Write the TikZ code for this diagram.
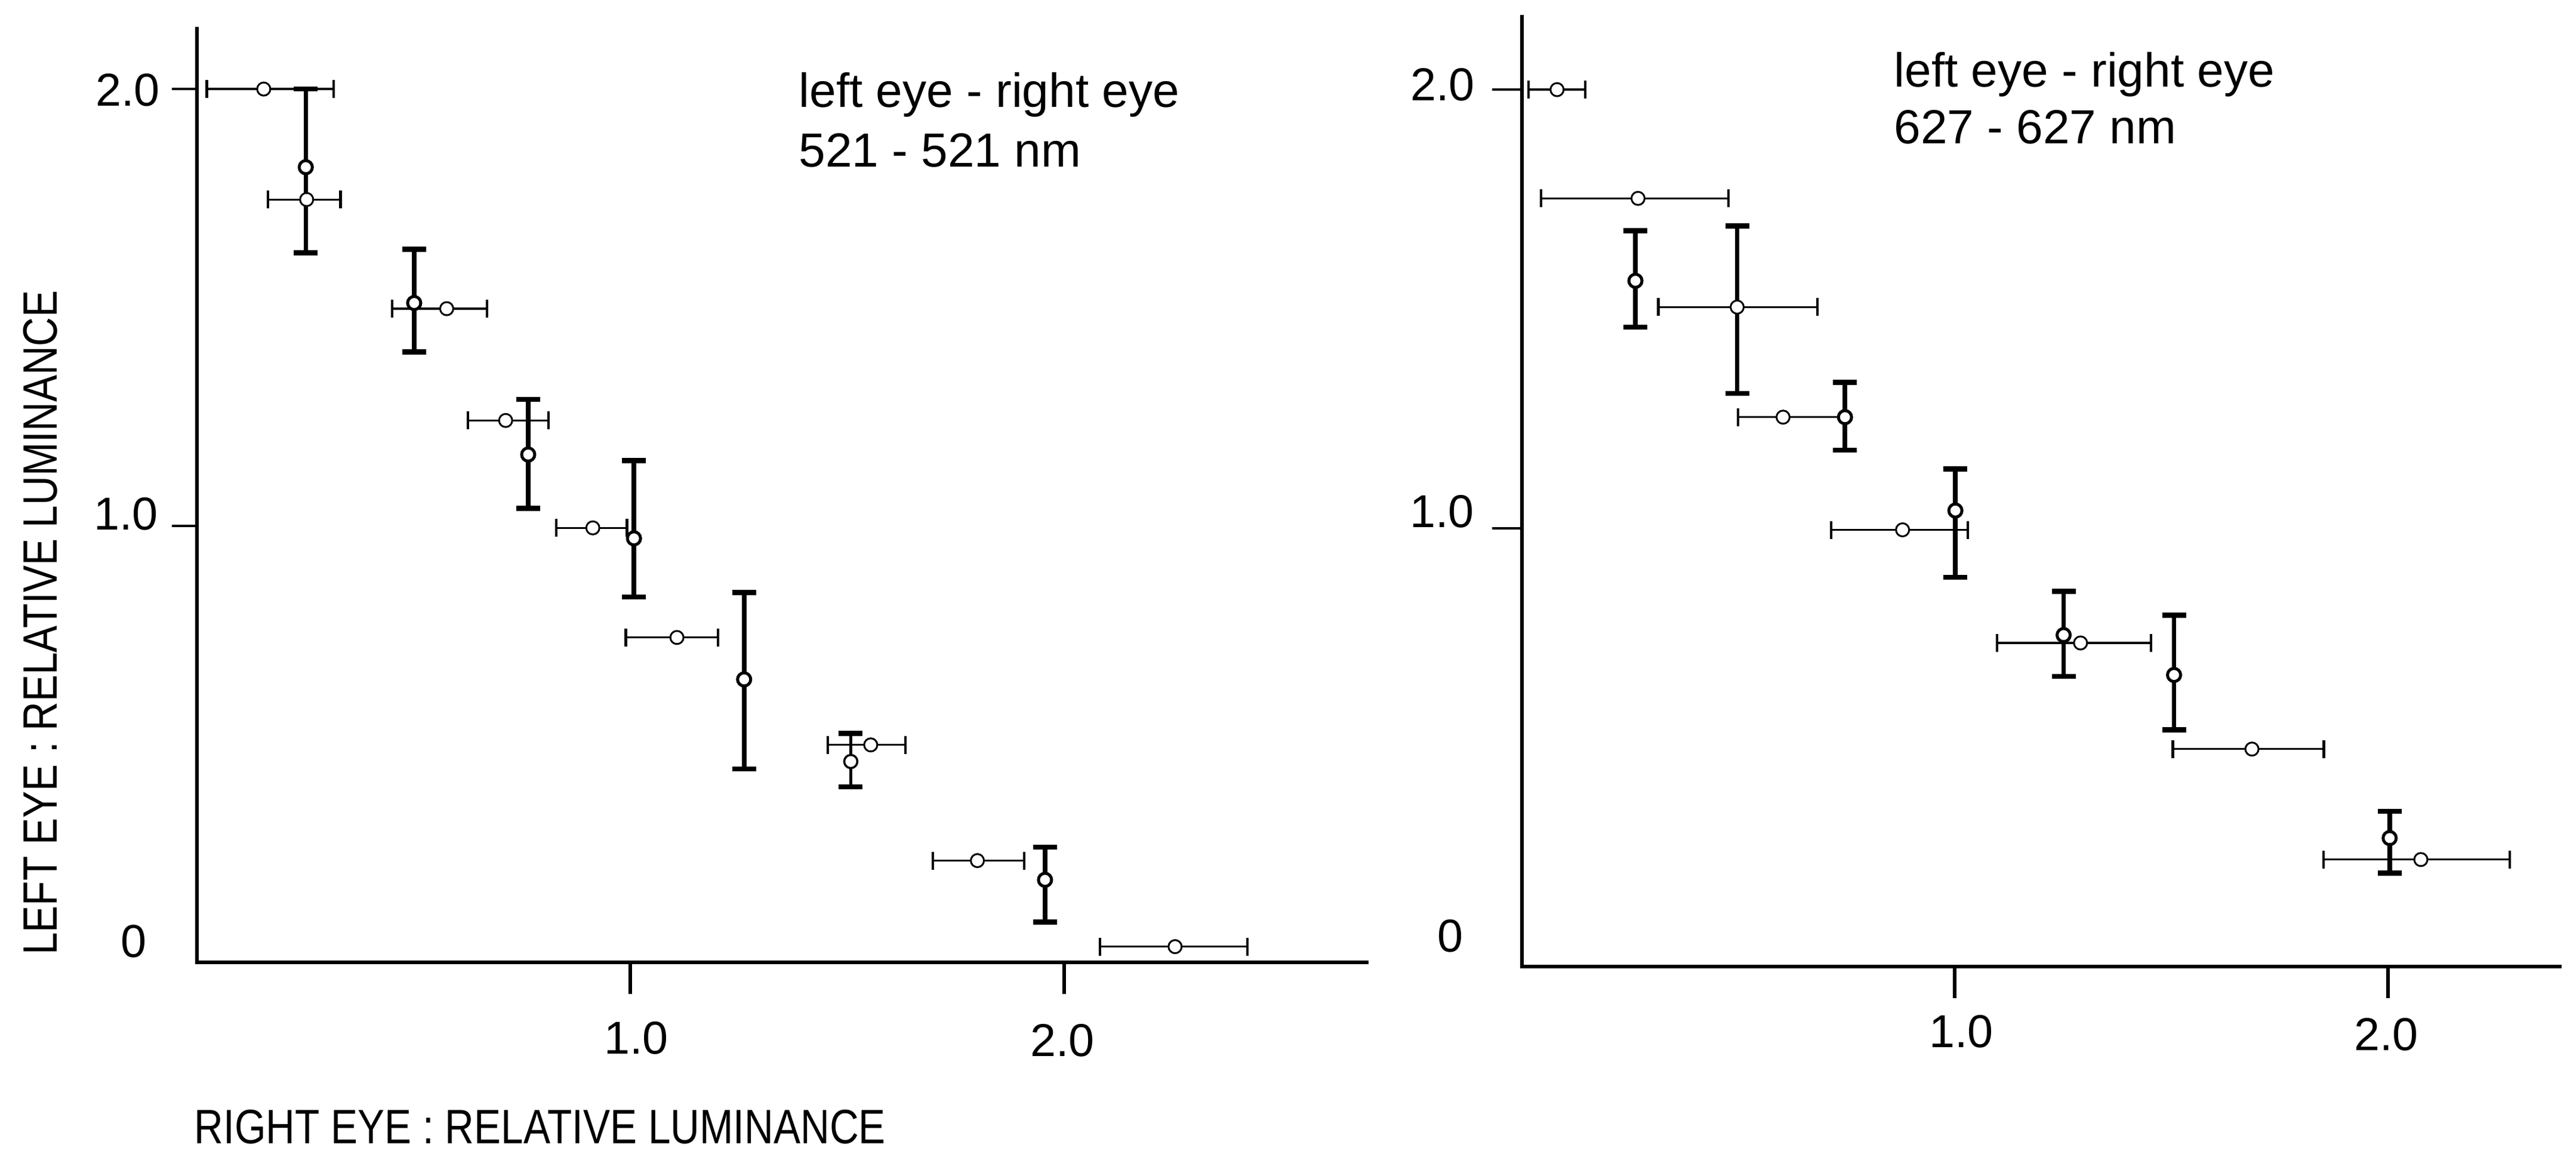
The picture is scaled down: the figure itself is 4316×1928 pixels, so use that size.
\documentclass[tikz,border=0pt]{standalone}
\usepackage{fontspec}
\setmainfont{Liberation Sans}
\usepackage{graphicx}
\usetikzlibrary{backgrounds}
\tikzset{
  axis/.style={line width=0.055cm, line cap=rect},
  ytk/.style={line width=0.04cm},
  xtk/.style={line width=0.06cm},
  hbar/.style={line width=0.033cm},
  hcap/.style={line width=0.045cm},
  vbar/.style={line width=0.075cm},
  vcap/.style={line width=0.085cm},
  pt/.style={circle, draw, fill=white, inner sep=0pt, minimum size=0.22cm, line width=0.03cm},
  bpt/.style={pt, line width=0.05cm},
  lbl/.style={font=\fontsize{22}{26}\selectfont, inner sep=0pt},
  note/.style={font=\fontsize{22.8}{28}\selectfont, inner sep=0pt, anchor=base west},
  axlbl/.style={font=\fontsize{23}{28}\selectfont, inner sep=0pt},
}
% horizontal error bar with its point: name, x, y, lo, hi
\newcommand{\HB}[5]{%
  \begin{pgfonlayer}{background}
  \draw[hbar] (#4,#3) -- (#5,#3);
  \draw[hcap] (#4,#3) ++(0,-0.15cm) -- ++(0,0.3cm);
  \draw[hcap] (#5,#3) ++(0,-0.15cm) -- ++(0,0.3cm);
  \end{pgfonlayer}
  \node[pt] (#1) at (#2,#3) {};}
% vertical error bar only: x, lo, hi
\newcommand{\VBAR}[3]{%
  \begin{pgfonlayer}{background}
  \draw[vbar] (#1,#2) -- (#1,#3);
  \draw[vcap] (#1,#2) ++(-0.2cm,0) -- ++(0.4cm,0);
  \draw[vcap] (#1,#3) ++(-0.2cm,0) -- ++(0.4cm,0);
  \end{pgfonlayer}}
% vertical error bar with its point: name, x, y, lo, hi
\newcommand{\VB}[5]{%
  \VBAR{#2}{#4}{#5}%
  \node[bpt] (#1) at (#2,#3) {};}
\begin{document}
\begin{tikzpicture}[x=0.01cm, y=-0.01cm]
\useasboundingbox (0,0) rectangle (4316,1928);

% ---------------- left panel ----------------
\begin{scope}[shift={(330,1612)}, x=7.26cm, y=7.31cm]
  \draw[axis] (0,2.138) -- (0,0) -- (2.698,0);
  \draw[ytk] (0,2) -- ++(-0.42cm,0);
  \draw[ytk] (0,1) -- ++(-0.42cm,0);
  \draw[xtk] (1,0) -- ++(0,-0.53cm);
  \draw[xtk] (2,0) -- ++(0,-0.53cm);
  \HB{la}{0.154}{2.0}{0.023}{0.315}
  \VB{lb}{0.251}{1.821}{1.625}{2.0}
  \HB{lc}{0.253}{1.747}{0.164}{0.331}
  \VB{ld}{0.501}{1.510}{1.398}{1.633}
  \HB{le}{0.576}{1.497}{0.450}{0.669}
  \HB{lf}{0.712}{1.241}{0.625}{0.811}
  \VB{lg}{0.764}{1.163}{1.040}{1.289}
  \HB{lh}{0.913}{0.995}{0.829}{0.992}
  \VB{li}{1.008}{0.971}{0.837}{1.149}
  \HB{lj}{1.107}{0.744}{0.989}{1.202}
  \VB{lk}{1.262}{0.648}{0.443}{0.847}
  \begin{scope}[vbar/.append style={line width=0.05cm}, bpt/.append style={line width=0.035cm}]
  \VB{ll}{1.508}{0.460}{0.402}{0.524}
  \end{scope}
  \HB{lm}{1.554}{0.498}{1.455}{1.634}
  \HB{ln}{1.800}{0.233}{1.697}{1.908}
  \VB{lo}{1.956}{0.189}{0.092}{0.264}
  \HB{lp}{2.256}{0.036}{2.083}{2.423}
\end{scope}
\node[lbl] (ly2) at (214,151) {2.0};
\node[lbl] (ly1) at (211,861) {1.0};
\node[lbl] (ly0) at (224,1577) {0};
\node[lbl] (lx1) at (1066,1739) {1.0};
\node[lbl] (lx2) at (1780,1743) {2.0};
\node[note] (ln1) at (1338,180) {left eye - right eye};
\node[note] (ln2) at (1338,280) {521 - 521 nm};
\node[axlbl, anchor=west] (xlab) at (325,1888) {\scalebox{0.835}[1]{RIGHT EYE : RELATIVE LUMINANCE}};
\node[axlbl, rotate=90] (ylab) at (68,1043) {\scalebox{0.835}[1]{LEFT EYE : RELATIVE LUMINANCE}};

% ---------------- right panel ----------------
\begin{scope}[shift={(2550,1619)}, x=7.25cm, y=7.34cm]
  \draw[axis] (0,2.166) -- (0,0) -- (2.397,0);
  \draw[ytk] (0,2) -- ++(-0.5cm,0);
  \draw[ytk] (0,1) -- ++(-0.5cm,0);
  \draw[xtk] (1,0) -- ++(0,-0.53cm);
  \draw[xtk] (2,0) -- ++(0,-0.53cm);
  \HB{ra}{0.081}{2.0}{0.015}{0.146}
  \HB{rb}{0.268}{1.752}{0.044}{0.477}
  \VB{rc}{0.262}{1.564}{1.458}{1.678}
  \VBAR{0.497}{1.307}{1.689}
  \HB{rd}{0.497}{1.504}{0.315}{0.682}
  \HB{re}{0.603}{1.253}{0.499}{0.746}
  \VB{rf}{0.746}{1.253}{1.178}{1.332}
  \HB{rh}{0.879}{0.996}{0.714}{1.030}
  \VB{rg}{1.001}{1.040}{0.888}{1.135}
  \VB{rj}{1.251}{0.756}{0.662}{0.856}
  \HB{rk}{1.290}{0.738}{1.097}{1.453}
  \VB{rl}{1.506}{0.665}{0.540}{0.801}
  \HB{rm}{1.686}{0.496}{1.503}{1.852}
  \VB{rn}{2.004}{0.293}{0.213}{0.354}
  \HB{ro}{2.076}{0.244}{1.851}{2.281}
\end{scope}
\node[lbl] (ry2) at (2417,142) {2.0};
\node[lbl] (ry1) at (2416,857) {1.0};
\node[lbl] (ry0) at (2430,1568) {0};
\node[lbl] (rx1) at (3286,1728) {1.0};
\node[lbl] (rx2) at (3998,1733) {2.0};
\node[note] (rn1) at (3173,146) {left eye - right eye};
\node[note] (rn2) at (3173,241) {627 - 627 nm};
\end{tikzpicture}
\end{document}
